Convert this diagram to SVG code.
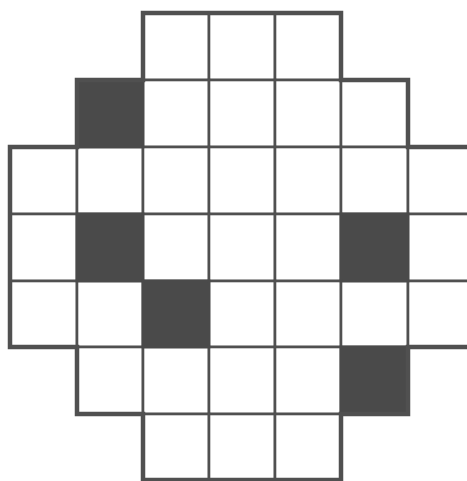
<svg xmlns="http://www.w3.org/2000/svg" width="467" height="481" viewBox="0 0 467 481">
<style>
.c{fill:#fff;stroke:#505050;stroke-width:2.6}
.d{fill:#4a4a4a;stroke:#4a4a4a;stroke-width:2.6}
.o{fill:none;stroke:#505050;stroke-width:4.5;stroke-linejoin:miter}
</style>
<rect width="467" height="481" fill="#fff"/>
<g id="cells">
<rect class="c" x="143" y="13" width="66" height="67"/><rect class="c" x="209" y="13" width="66" height="67"/><rect class="c" x="275" y="13" width="66" height="67"/>
<rect class="c" x="77" y="80" width="66" height="67"/><rect class="c" x="143" y="80" width="66" height="67"/><rect class="c" x="209" y="80" width="66" height="67"/><rect class="c" x="275" y="80" width="66" height="67"/><rect class="c" x="341" y="80" width="67" height="67"/>
<rect class="c" x="10" y="147" width="67" height="67"/><rect class="c" x="77" y="147" width="66" height="67"/><rect class="c" x="143" y="147" width="66" height="67"/><rect class="c" x="209" y="147" width="66" height="67"/><rect class="c" x="275" y="147" width="66" height="67"/><rect class="c" x="341" y="147" width="67" height="67"/><rect class="c" x="408" y="147" width="66" height="67"/>
<rect class="c" x="10" y="214" width="67" height="67"/><rect class="c" x="77" y="214" width="66" height="67"/><rect class="c" x="143" y="214" width="66" height="67"/><rect class="c" x="209" y="214" width="66" height="67"/><rect class="c" x="275" y="214" width="66" height="67"/><rect class="c" x="341" y="214" width="67" height="67"/><rect class="c" x="408" y="214" width="66" height="67"/>
<rect class="c" x="10" y="281" width="67" height="66"/><rect class="c" x="77" y="281" width="66" height="66"/><rect class="c" x="143" y="281" width="66" height="66"/><rect class="c" x="209" y="281" width="66" height="66"/><rect class="c" x="275" y="281" width="66" height="66"/><rect class="c" x="341" y="281" width="67" height="66"/><rect class="c" x="408" y="281" width="66" height="66"/>
<rect class="c" x="77" y="347" width="66" height="67"/><rect class="c" x="143" y="347" width="66" height="67"/><rect class="c" x="209" y="347" width="66" height="67"/><rect class="c" x="275" y="347" width="66" height="67"/><rect class="c" x="341" y="347" width="67" height="67"/>
<rect class="c" x="143" y="414" width="66" height="66"/><rect class="c" x="209" y="414" width="66" height="66"/><rect class="c" x="275" y="414" width="66" height="66"/>
</g>
<g id="dark">
<rect class="d" x="77" y="80" width="66" height="67"/>
<rect class="d" x="77" y="214" width="66" height="67"/>
<rect class="d" x="341" y="214" width="67" height="67"/>
<rect class="d" x="143" y="281" width="66" height="66"/>
<rect class="d" x="341" y="347" width="67" height="67"/>
</g>
<polygon id="outline" class="o" points="143,13 341,13 341,80 408,80 408,147 474,147 474,347 408,347 408,414 341,414 341,480 143,480 143,414 77,414 77,347 10,347 10,147 77,147 77,80 143,80"/>
</svg>
